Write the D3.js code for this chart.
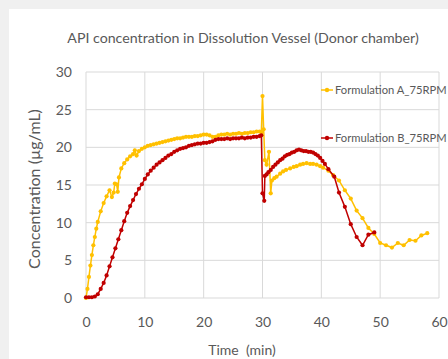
<!DOCTYPE html>
<meta charset="utf-8">
<style>
html, body { margin: 0; padding: 0; background: #f0f0f0; }
svg { display: block; font-family: Lato, "Open Sans", sans-serif; }
</style>
<body>
<script src="https://cdn.jsdelivr.net/npm/d3@7"></script>
<script>

var width = 448,
    height = 359;

// Formulation A (time in min, concentration in µg/mL)
var timeA = [0,0.25,0.5,0.75,1,1.25,1.5,1.75,2,2.5,3,3.5,4,4.4,4.7,4.9,5.2,5.4,5.6,6,6.5,7,7.5,8,8.3,8.6,9,9.5,10,10.5,11,11.5,12,12.5,13,13.5,14,14.5,15,15.5,16,16.5,17,17.5,18,18.5,19,19.5,20,20.5,21,21.5,22,22.5,23,23.5,24,24.5,25,25.5,26,26.5,27,27.5,28,28.5,29,29.5,29.8,30,30.2,30.4,30.7,31.1,31.4,31.6,32,32.4,33,33.5,34,34.7,35.3,35.8,36.4,36.9,37.5,38.1,38.6,39.2,39.8,40.3,41.2,42,43,44,45,46,47,48,49,50,51,52,53,54,55,56,57,58];
var concA = [0,1.2,2.8,4.3,5.7,7,8.1,9.2,10.1,11.5,12.6,13.5,14.3,13.4,14.0,15.2,15.1,14.1,16.0,17.2,17.9,18.4,18.8,19.1,19.6,18.9,19.5,19.8,20.0,20.2,20.3,20.4,20.5,20.6,20.7,20.8,20.9,21.0,21.1,21.2,21.2,21.3,21.4,21.4,21.4,21.5,21.5,21.6,21.7,21.7,21.6,21.4,21.4,21.6,21.7,21.7,21.8,21.7,21.8,21.8,21.9,21.8,21.9,21.9,22.0,22.0,22.1,22.1,22.0,26.8,22.4,18.3,17.7,19.4,13.9,15.6,15.9,16.1,16.5,16.8,17.0,17.2,17.4,17.5,17.7,17.8,17.9,17.8,17.8,17.7,17.5,17.3,16.9,16.3,15.6,14.3,13.2,11.6,10.6,9.3,8.5,7.3,7.0,6.7,7.3,7.0,7.7,7.6,8.3,8.6];

// Formulation B
var timeB = [0,0.5,1,1.5,2,2.5,3,3.5,4,4.5,5,5.5,6,6.5,7,7.5,8,8.5,9,9.5,10,10.5,11,11.5,12,12.5,13,13.5,14,14.5,15,15.5,16,16.5,17,17.5,18,18.5,19,19.5,20,20.5,21,21.5,22,22.5,23,23.5,24,24.5,25,25.5,26,26.5,27,27.5,28,28.5,29,29.5,29.8,30,30.3,30.4,30.7,31,31.4,31.8,32.2,32.6,33,33.4,33.8,34.2,34.6,35,35.4,35.8,36.2,36.6,37,37.4,37.8,38.2,38.6,39,39.4,39.8,40.2,40.6,41.2,42.2,43,44,45,46,47,48,49];
var concB = [0.1,0.1,0.1,0.2,0.5,1.2,2.0,3.0,4.2,5.4,6.6,7.8,9.0,10.2,11.3,12.2,13.0,13.8,14.5,15.1,15.8,16.4,16.9,17.3,17.7,18.0,18.3,18.6,18.9,19.1,19.4,19.6,19.8,19.9,20.0,20.2,20.3,20.4,20.5,20.5,20.6,20.6,20.7,20.8,21.0,21.1,21.1,21.1,21.2,21.1,21.2,21.2,21.2,21.3,21.2,21.3,21.3,21.4,21.4,21.5,21.6,13.9,12.9,16.2,16.4,16.7,17.0,17.4,17.7,18.0,18.3,18.5,18.8,19.0,19.1,19.3,19.4,19.6,19.7,19.6,19.5,19.5,19.4,19.4,19.3,19.1,18.9,18.6,18.2,17.8,17.1,16.1,14.0,12.1,9.8,8.1,7.0,8.4,8.7];

var seriesNames = ["Formulation A_75RPM", "Formulation B_75RPM"];
var seriesColors = ["#ffc000", "#c00000"];
var xTicks = [0, 10, 20, 30, 40, 50, 60];
var yTicks = [0, 5, 10, 15, 20, 25, 30];

var textColor = "#595959",
    gridColor = "#d9d9d9";

var x = d3.scaleLinear().domain([0, 60]).range([86, 439]);
var y = d3.scaleLinear().domain([0, 30]).range([298, 72]);

var svg = d3.select("body").append("svg")
  .attr("width", width)
  .attr("height", height);

svg.append("rect")
  .attr("x", 9).attr("y", 9)
  .attr("width", width - 9).attr("height", height - 9)
  .attr("fill", "#fff");

// grid
svg.append("g")
  .selectAll("line.h")
  .data(yTicks)
  .enter().append("line")
  .attr("x1", x(0)).attr("x2", x(60))
  .attr("y1", function(d){ return y(d); })
  .attr("y2", function(d){ return y(d); })
  .attr("stroke", gridColor);

svg.append("g")
  .selectAll("line.v")
  .data(xTicks)
  .enter().append("line")
  .attr("y1", y(0)).attr("y2", y(30))
  .attr("x1", function(d){ return x(d); })
  .attr("x2", function(d){ return x(d); })
  .attr("stroke", gridColor);

// axes
var xAxis = svg.append("g")
  .attr("transform", "translate(0," + y(0) + ")")
  .call(d3.axisBottom(x).tickValues(xTicks).tickSize(0).tickPadding(19));
var yAxis = svg.append("g")
  .attr("transform", "translate(" + x(0) + ",0)")
  .call(d3.axisLeft(y).tickValues(yTicks).tickSize(0).tickPadding(14));

[xAxis, yAxis].forEach(function(g){
  g.select(".domain").remove();
  g.selectAll("text")
    .attr("fill", textColor)
    .style("font-family", "Lato, 'Open Sans', sans-serif")
    .style("font-size", "14px");
});

// titles
svg.append("text")
  .attr("x", 243).attr("y", 43)
  .attr("text-anchor", "middle")
  .attr("fill", textColor)
  .style("font-size", "14.2px")
  .text("API concentration in Dissolution Vessel (Donor chamber)");

svg.append("text")
  .attr("x", 242).attr("y", 355)
  .attr("text-anchor", "middle")
  .attr("fill", textColor)
  .style("font-size", "14px")
  .attr("xml:space", "preserve")
  .text("Time  (min)");

svg.append("text")
  .attr("transform", "translate(40,189) rotate(-90)")
  .attr("text-anchor", "middle")
  .attr("fill", textColor)
  .style("font-size", "16px")
  .text("Concentration (µg/mL)");

// series
var series = [d3.zip(timeA, concA), d3.zip(timeB, concB)];

var line = d3.line()
  .x(function(d){ return x(d[0]); })
  .y(function(d){ return y(d[1]); });

series.forEach(function(pts, i){
  var g = svg.append("g");
  g.append("path")
    .datum(pts)
    .attr("fill", "none")
    .attr("stroke", seriesColors[i])
    .attr("stroke-width", 1.5)
    .attr("d", line);
  g.selectAll("circle")
    .data(pts)
    .enter().append("circle")
    .attr("cx", function(d){ return x(d[0]); })
    .attr("cy", function(d){ return y(d[1]); })
    .attr("r", 2.1)
    .attr("fill", seriesColors[i]);
});

// legend
var legendY = [90, 138];
var legend = svg.append("g")
  .selectAll("g")
  .data(seriesNames)
  .enter().append("g")
  .attr("transform", function(d, i){ return "translate(321," + legendY[i] + ")"; });

legend.append("line")
  .attr("x1", 0).attr("x2", 12)
  .attr("stroke", function(d, i){ return seriesColors[i]; })
  .attr("stroke-width", 1.5);
legend.append("circle")
  .attr("cx", 6).attr("r", 2.2)
  .attr("fill", function(d, i){ return seriesColors[i]; });
legend.append("text")
  .attr("x", 14).attr("dy", "0.35em")
  .attr("fill", textColor)
  .style("font-size", "11.2px")
  .text(function(d){ return d; });

</script>
</body>
